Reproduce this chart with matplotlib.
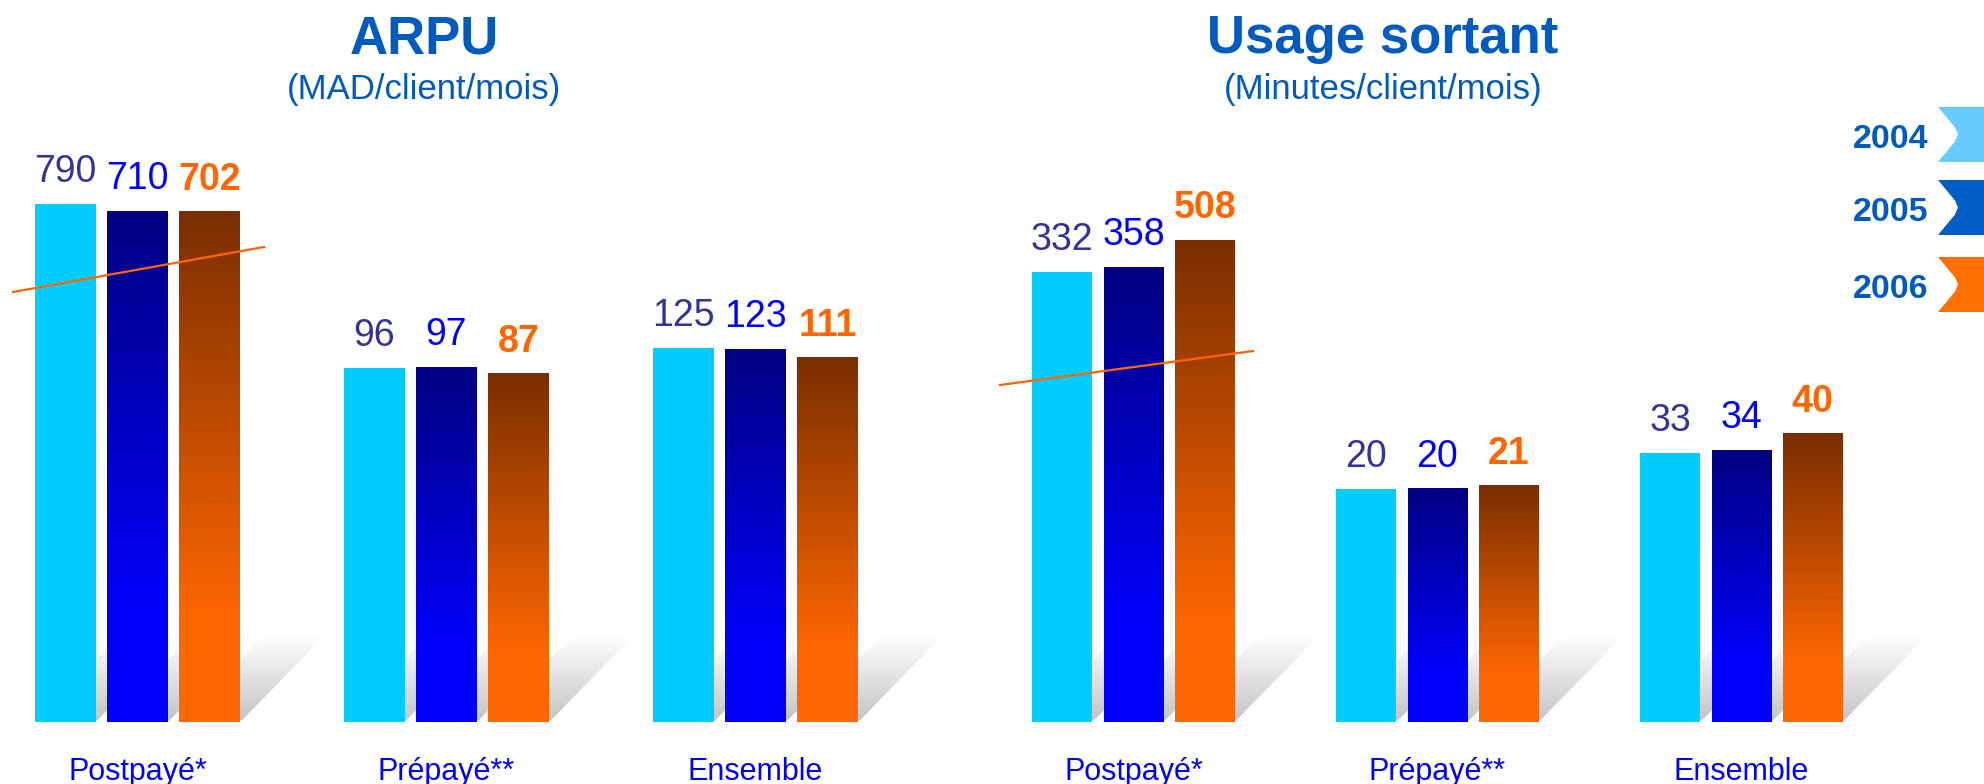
import numpy as np
import matplotlib
matplotlib.use('Agg')
import matplotlib.pyplot as plt
from matplotlib.patches import Polygon
from matplotlib.lines import Line2D
from matplotlib.colors import to_rgb
from matplotlib.transforms import blended_transform_factory

plt.rcParams['font.family'] = ['Liberation Sans', 'DejaVu Sans']

categories = ['Postpayé*', 'Prépayé**', 'Ensemble']
years = ['2004', '2005', '2006']

arpu_2004 = [790, 96, 125]
arpu_2005 = [710, 97, 123]
arpu_2006 = [702, 87, 111]

usage_2004 = [332, 20, 33]
usage_2005 = [358, 20, 34]
usage_2006 = [508, 21, 40]

# the original chart is not proportional (offset base + broken axis),
# so each panel gets a piecewise-linear scale: value -> height in px
arpu_knots_v = [0, 50, 150, 650, 800, 1000]
arpu_knots_h = [0, 322.7, 391.1, 505.3, 518.9, 600]
usage_knots_v = [0, 10, 50, 300, 550, 1000]
usage_knots_h = [0, 206, 316, 444.2, 489.6, 600]

W, H = 1984, 784
AX_H = 600          # axes height in px
BASE = 722          # bar base, px from top

bar_flat = ['#00CCFF', '#0000FF', '#FF6600']
grad_top = [None, '#000080', '#7A2E00']
label_cols = ['#333399', '#0000FF', '#FF6600']
flag_cols = ['#66CCFF', '#005EC4', '#FF7000']
title_col = '#005BC0'

bw = 0.197
off = 0.234

fig = plt.figure(figsize=(W / 100, H / 100), dpi=100)


def fx(x):
    return x / W


def fy(y):
    return 1 - y / H


def gradient(top, bottom, n=256, stop=0.8):
    t = np.linspace(0, 1, n)
    f = np.clip(t / stop, 0, 1)[:, None]
    c = np.array(to_rgb(top)) + (np.array(to_rgb(bottom)) - np.array(to_rgb(top))) * f
    return c[:, None, :]


def panel(left_px, width_px, xlim, knots_v, knots_h, series, line):
    ax = fig.add_axes([fx(left_px), (H - BASE) / H, width_px / W, AX_H / H])
    kv = np.array(knots_v, float)
    kh = np.array(knots_h, float)
    ax.set_yscale('function', functions=(lambda v: np.interp(v, kv, kh),
                                         lambda h: np.interp(h, kh, kv)))
    ax.set_xlim(*xlim)
    ax.set_ylim(0, 1000)
    ax.axis('off')

    to_ax = ax.transData + ax.transAxes.inverted()
    x = np.arange(len(categories))
    s = 2 / width_px
    dx = 82 / width_px
    yb, yt = 2 / AX_H, 86 / AX_H
    shade = np.linspace(0.77, 1.0, 128)[:, None, None] * np.ones((1, 1, 3))

    for i, vals in enumerate(series):
        xs = x + (i - 1) * off
        bars = ax.bar(xs, vals, width=bw, color=bar_flat[i], zorder=2)
        for b in bars:
            (x0, y0), (x1, y1) = to_ax.transform([[b.get_x(), 0],
                                                  [b.get_x() + b.get_width(), b.get_height()]])
            # cast shadow
            poly = Polygon([[x0 + s, yb], [x1 + s, yb], [x1 + s + dx, yt], [x0 + s + dx, yt]],
                           closed=True, transform=ax.transAxes)
            im = ax.imshow(shade, extent=[x0 + s, x1 + s + dx, yb, yt], transform=ax.transAxes,
                           origin='lower', aspect='auto', zorder=1, interpolation='bilinear')
            im.set_clip_path(poly)
            im.set_clip_box(None)
            # vertical gradient on 2005 / 2006 bars
            if grad_top[i] is not None:
                ax.imshow(gradient(grad_top[i], bar_flat[i]), extent=[x0, x1, y0, y1],
                          transform=ax.transAxes, origin='upper', aspect='auto', zorder=3,
                          interpolation='bilinear')
        for xi, v in zip(xs, vals):
            ax.annotate(str(v), xy=(xi, v), xytext=(0, 15.8), textcoords='offset points',
                        ha='center', va='baseline', fontsize=27, color=label_cols[i],
                        fontweight='bold' if i == 2 else 'normal', zorder=5)

    trans = blended_transform_factory(ax.transData, ax.transAxes)
    for xi, cat in zip(x, categories):
        ax.text(xi, -58 / AX_H, cat, transform=trans, ha='center', va='baseline',
                fontsize=22, color='#0000FF')

    ax.set_xlim(*xlim)
    ax.set_ylim(0, 1000)

    (xa, ya), (xb, yb2) = line
    fig.add_artist(Line2D([fx(xa), fx(xb)], [fy(ya), fy(yb2)], color='#FF6600',
                          lw=1.6, transform=fig.transFigure, zorder=10))
    return ax


panel(0, 956, (-0.445, 2.649), arpu_knots_v, arpu_knots_h,
      [arpu_2004, arpu_2005, arpu_2006], ((13, 292), (264, 247)))
panel(981.5, 957.6, (-0.5, 2.65), usage_knots_v, usage_knots_h,
      [usage_2004, usage_2005, usage_2006], ((1000, 385), (1253, 351)))

# titles
fig.text(fx(424), fy(53), 'ARPU', ha='center', va='baseline', fontsize=38,
         fontweight='bold', color=title_col)
fig.text(fx(424), fy(99), '(MAD/client/mois)', ha='center', va='baseline', fontsize=25,
         color=title_col)
fig.text(fx(1383), fy(53), 'Usage sortant', ha='center', va='baseline', fontsize=38,
         fontweight='bold', color=title_col)
fig.text(fx(1383), fy(99), '(Minutes/client/mois)', ha='center', va='baseline', fontsize=25,
         color=title_col)

# legend flags
flag_top = [107, 180, 257]
for yr, col, y0 in zip(years, flag_cols, flag_top):
    y1 = y0 + 55
    ym = (y0 + y1) / 2
    pts = [(1938, y0), (1984, y0), (1984, y1), (1938, y1), (1955, ym + 7), (1958, ym), (1955, ym - 7)]
    fig.add_artist(Polygon([(fx(a), fy(b)) for a, b in pts], closed=True, facecolor=col,
                           edgecolor='none', transform=fig.transFigure))
    fig.text(fx(1928), fy(y0 + 41), yr, ha='right', va='baseline', fontsize=24.5,
             fontweight='bold', color=title_col)

fig.savefig('out.png', dpi=100)
